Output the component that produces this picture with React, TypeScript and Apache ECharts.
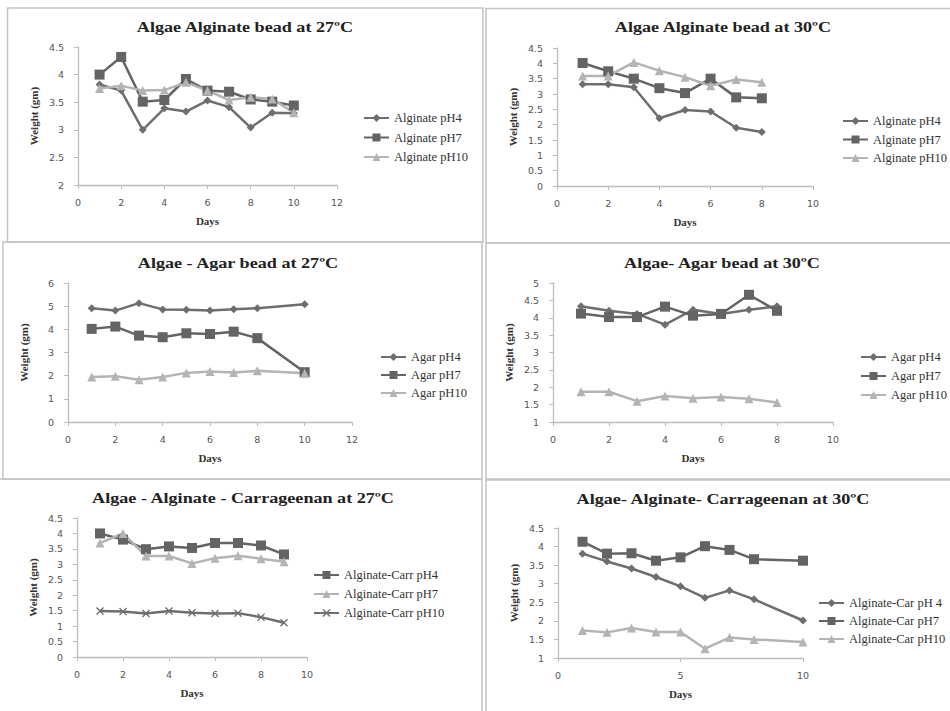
import React, { useEffect, useRef } from "react";
import * as echarts from "echarts";

// ---------- data ----------
const DAYS_1_10 = [1, 2, 3, 4, 5, 6, 7, 8, 9, 10];
const DAYS_1_8 = [1, 2, 3, 4, 5, 6, 7, 8];
const DAYS_1_9 = [1, 2, 3, 4, 5, 6, 7, 8, 9];
const DAYS_NO9 = [1, 2, 3, 4, 5, 6, 7, 8, 10];

const titles = [
  "Algae Alginate bead at 27ºC",
  "Algae Alginate bead at 30ºC",
  "Algae - Agar bead at 27ºC",
  "Algae- Agar bead at 30ºC",
  "Algae - Alginate - Carrageenan at 27ºC",
  "Algae- Alginate- Carrageenan at 30ºC",
];

const alg27_pH4 = [3.82, 3.71, 3.0, 3.39, 3.33, 3.53, 3.41, 3.04, 3.31, 3.3];
const alg27_pH7 = [4.0, 4.32, 3.51, 3.54, 3.92, 3.71, 3.69, 3.55, 3.51, 3.44];
const alg27_pH10 = [3.75, 3.8, 3.71, 3.72, 3.86, 3.71, 3.54, 3.59, 3.56, 3.31];

const alg30_pH4 = [3.32, 3.32, 3.22, 2.21, 2.48, 2.43, 1.9, 1.76];
const alg30_pH7 = [4.01, 3.74, 3.5, 3.19, 3.03, 3.5, 2.89, 2.86];
const alg30_pH10 = [3.59, 3.59, 4.03, 3.76, 3.55, 3.27, 3.47, 3.38];

const agar27_pH4 = [4.91, 4.81, 5.13, 4.86, 4.84, 4.81, 4.87, 4.91, 5.08];
const agar27_pH7 = [4.02, 4.12, 3.73, 3.66, 3.83, 3.8, 3.9, 3.62, 2.15];
const agar27_pH10 = [1.94, 1.98, 1.82, 1.94, 2.12, 2.18, 2.14, 2.21, 2.1];

const agar30_pH4 = [4.33, 4.2, 4.11, 3.8, 4.23, 4.11, 4.23, 4.33];
const agar30_pH7 = [4.12, 4.02, 4.02, 4.32, 4.06, 4.11, 4.66, 4.2];
const agar30_pH10 = [1.87, 1.87, 1.6, 1.75, 1.68, 1.72, 1.67, 1.56];

const carr27_pH4 = [4.0, 3.8, 3.49, 3.58, 3.53, 3.69, 3.69, 3.61, 3.32];
const carr27_pH7 = [3.69, 4.0, 3.27, 3.27, 3.03, 3.2, 3.28, 3.18, 3.08];
const carr27_pH10 = [1.49, 1.47, 1.41, 1.49, 1.43, 1.41, 1.42, 1.29, 1.11];

const carr30_pH4 = [3.81, 3.6, 3.41, 3.18, 2.93, 2.62, 2.82, 2.58, 2.01];
const carr30_pH7 = [4.13, 3.81, 3.82, 3.62, 3.71, 4.01, 3.91, 3.66, 3.62];
const carr30_pH10 = [1.74, 1.69, 1.81, 1.7, 1.7, 1.25, 1.55, 1.5, 1.43];

// axis ranges: [xMin, xMax, xInterval, yMin, yMax, yInterval]
const axisRanges = [
  [0, 12, 2, 2, 4.5, 0.5],
  [0, 10, 2, 0, 4.5, 0.5],
  [0, 12, 2, 0, 6, 1],
  [0, 10, 2, 1, 5, 0.5],
  [0, 10, 2, 0, 4.5, 0.5],
  [0, 10, 5, 1, 4.5, 0.5],
];

// ---------- styling / layout ----------
const DARK = "#6e6e6e";
const DARK2 = "#646464";
const LIGHT = "#b4b4b4";
const X_SYMBOL =
  "path://M0,1.2L1.2,0L5,3.8L8.8,0L10,1.2L6.2,5L10,8.8L8.8,10L5,6.2L1.2,10L0,8.8L3.8,5Z";

const grids = [
  { left: 78, top: 47, width: 259, height: 138 },
  { left: 557, top: 48, width: 256, height: 138 },
  { left: 68, top: 283, width: 284, height: 139 },
  { left: 553, top: 283, width: 280, height: 139 },
  { left: 77, top: 518, width: 230, height: 139 },
  { left: 558, top: 528, width: 245, height: 130 },
];
const titlePos = [
  [245, 27],
  [723, 27],
  [238, 263],
  [722, 263],
  [243, 498],
  [723, 499],
];
// [left, top, itemGap]
const legendPos = [
  [363, 111, 5.5],
  [842, 114, 4.5],
  [380, 350, 4],
  [860, 350, 5],
  [313, 568, 5],
  [818, 596, 4],
];

type S = { name: string; x: number[]; y: number[]; color: string; symbol: string; size: number };

const panels: S[][] = [
  [
    { name: "Alginate pH4", x: DAYS_1_10, y: alg27_pH4, color: DARK, symbol: "diamond", size: 8 },
    { name: "Alginate pH7", x: DAYS_1_10, y: alg27_pH7, color: DARK2, symbol: "rect", size: 10 },
    { name: "Alginate pH10", x: DAYS_1_10, y: alg27_pH10, color: LIGHT, symbol: "triangle", size: 9 },
  ],
  [
    { name: "Alginate pH4 ", x: DAYS_1_8, y: alg30_pH4, color: DARK, symbol: "diamond", size: 8 },
    { name: "Alginate pH7 ", x: DAYS_1_8, y: alg30_pH7, color: DARK2, symbol: "rect", size: 10 },
    { name: "Alginate pH10 ", x: DAYS_1_8, y: alg30_pH10, color: LIGHT, symbol: "triangle", size: 9 },
  ],
  [
    { name: "Agar pH4", x: DAYS_NO9, y: agar27_pH4, color: DARK, symbol: "diamond", size: 8 },
    { name: "Agar pH7", x: DAYS_NO9, y: agar27_pH7, color: DARK2, symbol: "rect", size: 10 },
    { name: "Agar pH10", x: DAYS_NO9, y: agar27_pH10, color: LIGHT, symbol: "triangle", size: 9 },
  ],
  [
    { name: "Agar pH4 ", x: DAYS_1_8, y: agar30_pH4, color: DARK, symbol: "diamond", size: 8 },
    { name: "Agar pH7 ", x: DAYS_1_8, y: agar30_pH7, color: DARK2, symbol: "rect", size: 10 },
    { name: "Agar pH10 ", x: DAYS_1_8, y: agar30_pH10, color: LIGHT, symbol: "triangle", size: 9 },
  ],
  [
    { name: "Alginate-Carr pH4", x: DAYS_1_9, y: carr27_pH4, color: DARK2, symbol: "rect", size: 10 },
    { name: "Alginate-Carr pH7", x: DAYS_1_9, y: carr27_pH7, color: LIGHT, symbol: "triangle", size: 9 },
    { name: "Alginate-Carr pH10", x: DAYS_1_9, y: carr27_pH10, color: DARK, symbol: X_SYMBOL, size: 8 },
  ],
  [
    { name: "Alginate-Car pH 4", x: DAYS_NO9, y: carr30_pH4, color: DARK, symbol: "diamond", size: 8 },
    { name: "Alginate-Car pH7", x: DAYS_NO9, y: carr30_pH7, color: DARK2, symbol: "rect", size: 10 },
    { name: "Alginate-Car pH10", x: DAYS_NO9, y: carr30_pH10, color: LIGHT, symbol: "triangle", size: 9 },
  ],
];

const borders = [
  [7.5, 8, 475.5, 234],
  [486, 8.5, 470, 234.5],
  [3, 242, 479, 237],
  [486, 243, 470, 236],
  [-5, 479, 487, 240],
  [486, 480, 470, 240],
];

const AXIS_COLOR = "#bdbdbd";
const LABEL_COLOR = "#555";
const SERIF = "'Liberation Serif', 'Times New Roman', serif";
const SANS = "'DejaVu Sans', Verdana, sans-serif";

export default function App() {
  const ref = useRef<HTMLDivElement>(null);

  useEffect(() => {
    if (!ref.current) return;
    const chart = echarts.init(ref.current, undefined, { renderer: "svg" });

    const xAxis = grids.map((_, i) => {
      const r = axisRanges[i];
      return {
        type: "value",
        gridIndex: i,
        min: r[0],
        max: r[1],
        interval: r[2],
        name: "Days",
        nameLocation: "middle",
        nameGap: 30,
        nameTextStyle: { fontFamily: SERIF, fontWeight: "bold", fontSize: 11, color: "#333" },
        axisLine: { show: true, onZero: false, lineStyle: { color: AXIS_COLOR, width: 1.3 } },
        axisTick: { show: true, length: 4, lineStyle: { color: AXIS_COLOR } },
        axisLabel: { color: LABEL_COLOR, fontFamily: SANS, fontSize: 9.5, margin: 12 },
        splitLine: { show: false },
      };
    });

    const yAxis = grids.map((_, i) => {
      const r = axisRanges[i];
      return {
        type: "value",
        gridIndex: i,
        min: r[3],
        max: r[4],
        interval: r[5],
        name: "Weight (gm)",
        nameLocation: "middle",
        nameGap: 39,
        nameTextStyle: { fontFamily: SERIF, fontWeight: "bold", fontSize: 11, color: "#333" },
        axisLine: { show: true, onZero: false, lineStyle: { color: AXIS_COLOR, width: 1.3 } },
        axisTick: { show: true, length: 4, lineStyle: { color: AXIS_COLOR } },
        axisLabel: { color: LABEL_COLOR, fontFamily: SANS, fontSize: 9.5, margin: 14 },
        splitLine: { show: false },
      };
    });

    const series: any[] = [];
    panels.forEach((p, i) => {
      p.forEach((s) => {
        series.push({
          type: "line",
          name: s.name,
          xAxisIndex: i,
          yAxisIndex: i,
          data: s.x.map((x, k) => [x, s.y[k]]),
          symbol: s.symbol,
          symbolSize: s.size,
          showSymbol: true,
          lineStyle: { color: s.color, width: 2.5 },
          itemStyle: { color: s.color, borderWidth: 0 },
          z: 3,
        });
      });
    });

    const legend = panels.map((p, i) => ({
      orient: "vertical",
      left: legendPos[i][0],
      top: legendPos[i][1],
      itemGap: legendPos[i][2],
      padding: 0,
      itemWidth: 25,
      itemHeight: 10,
      data: p.map((s) => s.name),
      textStyle: { fontFamily: SERIF, fontSize: 12.5, color: "#333", lineHeight: 14 },
      selectedMode: false,
    }));

    const graphic: any[] = [];
    borders.forEach((b) => {
      graphic.push({
        type: "rect",
        shape: { x: b[0], y: b[1], width: b[2], height: b[3] },
        style: { fill: "none", stroke: "#c4c4c4", lineWidth: 1.5 },
        silent: true,
        z: 0,
      });
    });
    titles.forEach((t, i) => {
      graphic.push({
        type: "text",
        x: titlePos[i][0],
        y: titlePos[i][1],
        scaleX: 1.25,
        style: {
          text: t,
          fontFamily: SERIF,
          fontWeight: "bold",
          fontSize: 14.5,
          fill: "#222",
          align: "center",
          verticalAlign: "middle",
        },
        z: 10,
      });
    });

    chart.setOption({
      animation: false,
      backgroundColor: "#ffffff",
      grid: grids.map((g) => ({ ...g, containLabel: false })),
      xAxis,
      yAxis,
      legend,
      series,
      graphic,
    });

    return () => chart.dispose();
  }, []);

  return (
    <div
      ref={ref}
      style={{ position: "fixed", left: 0, top: 0, width: 950, height: 711, background: "#fff" }}
    />
  );
}
